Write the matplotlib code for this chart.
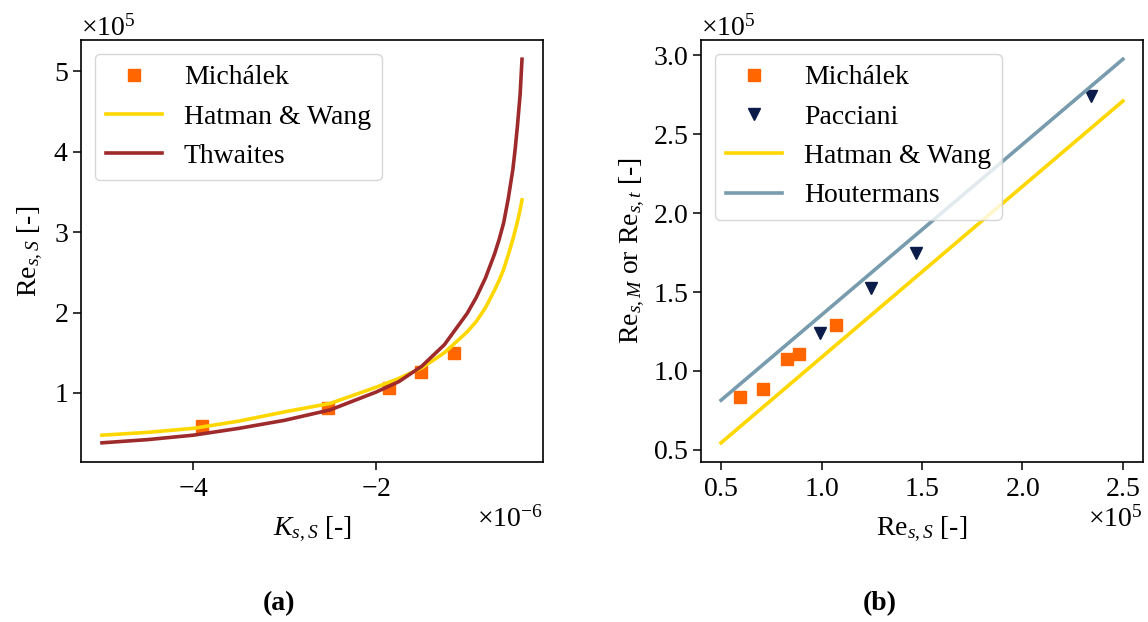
import numpy as np
import matplotlib
matplotlib.use("Agg")
from matplotlib import pyplot as plt

plt.rcParams['font.family'] = ['Liberation Serif', 'DejaVu Serif']
plt.rcParams['mathtext.fontset'] = 'custom'
plt.rcParams['mathtext.rm'] = 'Liberation Serif'
plt.rcParams['mathtext.it'] = 'Liberation Serif:italic'
plt.rcParams['mathtext.bf'] = 'Liberation Serif:bold'
plt.rcParams['font.size'] = 20
plt.rcParams['axes.linewidth'] = 1.2
plt.rcParams['xtick.major.size'] = 5.5
plt.rcParams['ytick.major.size'] = 5.5
plt.rcParams['xtick.major.width'] = 1.1
plt.rcParams['ytick.major.width'] = 1.1
plt.rcParams['xtick.major.pad'] = 5.5

# (a) acceleration parameter at separation vs separation Reynolds number
# K in 1e-6, Re in 1e5
mich_K = [-3.90, -2.52, -1.86, -1.51, -1.14]
mich_Re = [0.59, 0.81, 1.06, 1.26, 1.50]

curve_K = [-5.0, -4.5, -4.0, -3.5, -3.0, -2.5, -2.0, -1.75, -1.5, -1.25,
           -1.0, -0.9, -0.8, -0.7, -0.65, -0.6, -0.55, -0.5, -0.475,
           -0.45, -0.42, -0.4]
hw_Re = [0.475, 0.51, 0.56, 0.65, 0.765, 0.87, 1.07, 1.18, 1.31, 1.50,
         1.76, 1.89, 2.06, 2.28, 2.40, 2.54, 2.72, 2.91, 3.02,
         3.13, 3.28, 3.40]
thw_Re = [0.38, 0.42, 0.475, 0.56, 0.66, 0.79, 1.01, 1.14, 1.33, 1.60,
          1.99, 2.19, 2.43, 2.73, 2.91, 3.12, 3.42, 3.78, 4.03,
          4.32, 4.72, 5.15]

# (b) Re_s,S vs Re_s,M / Re_s,t (in 1e5)
mich_S = [0.594, 0.709, 0.826, 0.886, 1.07]
mich_M = [0.835, 0.886, 1.076, 1.107, 1.29]
pacc_S = [0.99, 1.244, 1.47, 2.343]
pacc_t = [1.24, 1.525, 1.75, 2.74]
line_S = [0.5, 1.5, 2.5]
hw_line = [0.545, 1.628, 2.71]
hout_line = [0.815, 1.895, 2.975]

c_orange = '#ff6600'
c_yellow = '#ffd700'
c_brown = '#9e2a2b'
c_blue = '#789cad'
c_navy = '#0b1c4a'

fig = plt.figure(figsize=(11.48, 6.22), dpi=100)
ax1 = fig.add_axes([81 / 1148, 160 / 622, 462 / 1148, 422 / 622])
ax2 = fig.add_axes([701 / 1148, 160 / 622, 442 / 1148, 422 / 622])

K = np.array(curve_K) * 1e-6
ax1.plot(np.array(mich_K) * 1e-6, np.array(mich_Re) * 1e5, 's', color=c_orange,
         markersize=8, label='Michálek')
ax1.plot(K, np.array(hw_Re) * 1e5, '-', color=c_yellow, lw=2.6, label='Hatman & Wang')
ax1.plot(K, np.array(thw_Re) * 1e5, '-', color=c_brown, lw=2.6, label='Thwaites')
ax1.set_xlabel(r'$K_{s,S}$ [-]', labelpad=9)
ax1.set_ylabel(r'Re$_{s,S}$ [-]', labelpad=6)
ax1.set_xticks([-4e-6, -2e-6])
ax1.set_yticks([1e5, 2e5, 3e5, 4e5, 5e5])
ax1.legend(loc='upper left')

ax2.plot(np.array(mich_S) * 1e5, np.array(mich_M) * 1e5, 's', color=c_orange,
         markersize=8, label='Michálek')
ax2.plot(np.array(pacc_S) * 1e5, np.array(pacc_t) * 1e5, 'v', color=c_navy,
         markersize=8, label='Pacciani')
ax2.plot(np.array(line_S) * 1e5, np.array(hw_line) * 1e5, '-', color=c_yellow,
         lw=2.6, label='Hatman & Wang')
ax2.plot(np.array(line_S) * 1e5, np.array(hout_line) * 1e5, '-', color=c_blue,
         lw=2.6, label='Houtermans')
ax2.set_xlabel(r'Re$_{s,S}$ [-]', labelpad=9)
ax2.set_ylabel(r'Re$_{s,M}$ or Re$_{s,t}$ [-]')
ax2.legend(loc='upper left')

for ax in (ax1, ax2):
    ax.ticklabel_format(style='sci', scilimits=(0, 0), useMathText=True)

fig.text(279 / 1148, 1 - 604 / 622, '(a)', ha='center', va='center', fontweight='bold')
fig.text(880 / 1148, 1 - 604 / 622, '(b)', ha='center', va='center', fontweight='bold')

fig.savefig('out.png', dpi=100)
